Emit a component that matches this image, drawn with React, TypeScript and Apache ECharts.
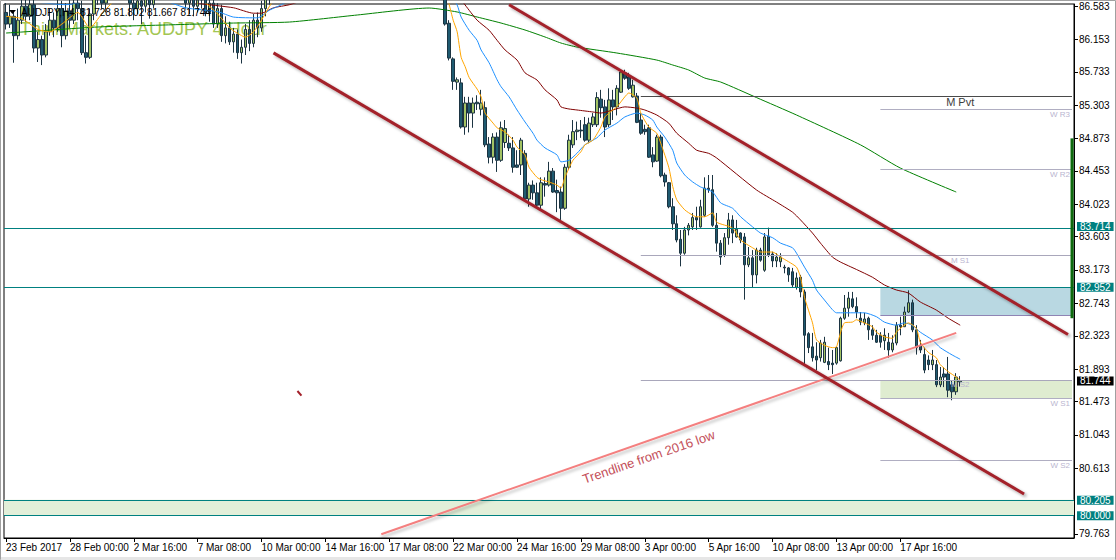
import React, { useEffect, useRef } from "react";
import * as echarts from "echarts";

const N_BARS = 268;
const categories = Array.from({ length: N_BARS }, (_, i) => String(i));
const xTickLabels = [
  "23 Feb 2017", "28 Feb 00:00", "2 Mar 16:00", "7 Mar 08:00", "10 Mar 00:00",
  "14 Mar 16:00", "17 Mar 08:00", "22 Mar 00:00", "24 Mar 16:00", "29 Mar 08:00",
  "3 Apr 00:00", "5 Apr 16:00", "10 Apr 08:00", "13 Apr 00:00", "17 Apr 16:00",
];
const yTickValues = [86.583, 86.153, 85.733, 85.303, 84.873, 84.453, 84.023, 83.603, 83.173,
  82.743, 82.323, 81.893, 81.473, 81.043, 80.613, 79.763];

// [open, close, low, high]
const candles: number[][] = [
  [86.50, 86.35, 86.28, 86.62], [86.35, 86.45, 86.30, 86.60], [86.45, 86.20, 85.85, 86.52], [86.20, 86.40, 86.15, 86.55],
  [86.40, 86.58, 86.35, 86.70], [86.58, 86.45, 86.38, 86.72], [86.45, 86.60, 86.40, 86.75], [86.60, 86.04, 85.98, 86.68],
  [86.04, 86.15, 85.86, 86.25], [86.15, 85.95, 85.82, 86.20], [85.95, 86.25, 85.92, 86.35], [86.25, 86.40, 86.20, 86.55],
  [86.40, 86.30, 86.18, 86.50], [86.30, 86.55, 86.25, 86.68], [86.55, 86.20, 86.05, 86.65], [86.20, 86.52, 86.15, 86.62],
  [86.52, 86.40, 86.30, 86.70], [86.40, 86.62, 86.35, 86.78], [86.62, 86.55, 86.40, 86.80], [86.55, 85.98, 85.95, 86.65],
  [85.98, 85.92, 85.84, 86.20], [85.92, 86.48, 85.90, 86.55], [86.48, 86.70, 86.40, 86.85], [86.70, 86.78, 86.60, 86.90],
  [86.78, 86.62, 86.55, 86.88], [86.62, 86.75, 86.50, 86.85], [86.75, 86.85, 86.68, 86.95], [86.85, 86.72, 86.65, 86.92],
  [86.72, 86.80, 86.62, 86.90], [86.80, 86.90, 86.70, 86.98], [86.90, 86.75, 86.68, 86.95], [86.75, 86.62, 86.45, 86.85],
  [86.62, 86.55, 86.40, 86.75], [86.55, 86.65, 86.48, 86.78], [86.65, 86.58, 86.35, 86.75], [86.58, 86.70, 86.50, 86.80],
  [86.70, 86.60, 86.42, 86.78], [86.60, 86.72, 86.55, 86.82], [86.72, 86.85, 86.65, 86.95], [86.85, 86.78, 86.70, 86.95],
  [86.78, 86.90, 86.72, 87.00], [86.90, 86.95, 86.80, 87.05], [86.95, 86.82, 86.75, 87.02], [86.82, 86.88, 86.70, 86.98],
  [86.88, 86.75, 86.68, 86.95], [86.75, 86.62, 86.55, 86.82], [86.62, 86.70, 86.48, 86.78], [86.70, 86.58, 86.45, 86.76],
  [86.58, 86.66, 86.50, 86.72], [86.66, 86.72, 86.55, 86.80], [86.72, 86.50, 86.45, 86.78], [86.50, 86.62, 86.38, 86.70],
  [86.62, 86.35, 86.30, 86.68], [86.35, 86.55, 86.30, 86.62], [86.55, 86.20, 86.12, 86.60], [86.20, 86.30, 86.10, 86.45],
  [86.30, 86.12, 86.08, 86.38], [86.12, 86.22, 85.98, 86.30], [86.22, 85.98, 85.90, 86.28], [85.98, 86.05, 85.84, 86.15],
  [86.05, 86.28, 85.95, 86.35], [86.28, 86.10, 86.00, 86.40], [86.10, 86.40, 86.05, 86.48], [86.40, 86.30, 86.18, 86.50],
  [86.30, 86.55, 86.25, 86.65], [86.55, 86.70, 86.45, 86.80], [86.70, 86.80, 86.60, 86.92],
  [86.80, 86.72, 86.62, 86.90], [86.72, 86.90, 86.66, 87.00], [86.90, 87.05, 86.84, 87.12], [87.05, 86.95, 86.88, 87.15],
  [86.95, 87.10, 86.90, 87.18], [87.10, 87.25, 87.05, 87.32], [87.25, 87.18, 87.10, 87.30], [87.18, 87.30, 87.12, 87.38],
  [87.30, 87.22, 87.15, 87.36], [87.22, 87.35, 87.18, 87.42], [87.35, 87.40, 87.28, 87.48], [87.40, 87.28, 87.22, 87.45],
  [87.28, 87.33, 87.20, 87.40], [87.33, 87.45, 87.28, 87.52], [87.45, 87.38, 87.30, 87.50], [87.38, 87.50, 87.34, 87.58],
  [87.50, 87.42, 87.36, 87.55], [87.42, 87.36, 87.28, 87.48], [87.36, 87.48, 87.30, 87.55], [87.48, 87.55, 87.42, 87.62],
  [87.55, 87.47, 87.40, 87.60], [87.47, 87.40, 87.32, 87.52], [87.40, 87.52, 87.36, 87.58], [87.52, 87.44, 87.38, 87.56],
  [87.44, 87.30, 87.24, 87.48], [87.30, 87.36, 87.22, 87.42], [87.36, 87.25, 87.18, 87.40], [87.25, 87.32, 87.20, 87.38],
  [87.32, 87.20, 87.12, 87.36], [87.20, 87.28, 87.14, 87.34], [87.28, 87.15, 87.08, 87.32], [87.15, 87.22, 87.10, 87.28],
  [87.22, 87.10, 87.02, 87.26], [87.10, 87.18, 87.04, 87.24], [87.18, 87.05, 86.98, 87.22], [87.05, 87.12, 86.98, 87.18],
  [87.12, 87.00, 86.92, 87.16], [87.00, 87.08, 86.92, 87.14], [87.08, 86.95, 86.88, 87.12], [86.95, 87.02, 86.88, 87.08],
  [87.02, 86.92, 86.84, 87.06], [86.92, 86.98, 86.82, 87.04], [86.98, 86.80, 86.72, 87.02],
  [86.70, 86.35, 86.33, 86.75], [86.36, 85.91, 85.88, 86.40], [85.90, 85.61, 85.50, 85.92], [85.60, 85.63, 85.50, 85.66],
  [85.59, 85.02, 85.00, 85.65], [85.02, 85.33, 84.92, 85.41], [85.33, 85.20, 84.95, 85.41], [85.20, 85.33, 85.01, 85.40],
  [85.34, 85.32, 85.24, 85.43], [85.25, 85.33, 85.17, 85.50], [85.27, 84.79, 84.76, 85.35], [84.80, 84.63, 84.55, 84.89],
  [84.63, 84.89, 84.55, 84.94], [84.89, 84.59, 84.44, 84.95], [84.59, 85.01, 84.57, 85.09], [84.82, 85.00, 84.75, 85.11],
  [84.81, 84.75, 84.71, 84.92], [84.75, 84.50, 84.43, 84.89], [84.53, 84.50, 84.49, 84.72], [84.53, 84.85, 84.40, 84.88],
  [84.68, 84.09, 84.08, 84.72], [84.09, 84.27, 83.99, 84.30], [84.27, 84.17, 84.08, 84.33], [84.17, 84.01, 83.99, 84.30],
  [84.01, 84.30, 83.95, 84.37], [84.29, 84.27, 84.12, 84.37], [84.27, 84.45, 84.25, 84.57], [84.45, 84.18, 84.17, 84.49],
  [84.20, 84.17, 83.92, 84.34], [84.18, 83.97, 83.82, 84.25], [83.97, 84.50, 83.95, 84.54], [84.50, 84.85, 84.47, 84.92],
  [84.79, 84.96, 84.75, 85.11], [84.96, 84.98, 84.85, 85.09], [84.98, 84.97, 84.88, 85.11], [85.05, 84.85, 84.83, 85.15],
  [84.85, 85.07, 84.81, 85.14], [85.05, 85.15, 85.02, 85.20], [85.05, 85.40, 85.02, 85.47], [85.38, 85.27, 85.14, 85.50],
  [85.28, 85.02, 84.89, 85.37], [85.05, 85.37, 85.02, 85.52], [85.37, 85.28, 85.11, 85.50], [85.28, 85.52, 85.17, 85.56],
  [85.47, 85.73, 85.46, 85.76], [85.72, 85.65, 85.63, 85.76], [85.67, 85.52, 85.50, 85.72], [85.41, 85.56, 85.40, 85.63],
  [85.42, 85.08, 85.07, 85.46], [85.11, 84.94, 84.92, 85.20], [84.99, 84.96, 84.92, 85.05], [85.01, 84.63, 84.62, 85.05],
  [84.66, 84.57, 84.50, 84.76], [84.58, 84.89, 84.57, 84.92], [84.89, 84.39, 84.37, 84.92], [84.40, 84.31, 84.25, 84.43],
  [84.30, 83.99, 83.97, 84.31], [83.99, 83.77, 83.69, 84.10], [83.77, 83.56, 83.53, 83.88], [83.57, 83.39, 83.22, 83.69],
  [83.39, 83.69, 83.37, 83.73], [83.69, 83.75, 83.62, 83.78], [83.73, 83.85, 83.69, 83.91], [83.85, 83.82, 83.69, 83.99],
  [83.73, 83.99, 83.72, 84.08], [83.88, 84.23, 83.86, 84.37], [84.23, 84.21, 84.17, 84.40], [84.21, 83.75, 83.73, 84.40],
  [83.75, 83.52, 83.41, 83.91], [83.52, 83.34, 83.24, 83.56], [83.37, 83.59, 83.34, 83.65], [83.59, 83.82, 83.50, 83.91],
  [83.82, 83.65, 83.52, 83.88], [83.60, 83.70, 83.59, 83.82], [83.65, 83.56, 83.52, 83.66], [83.60, 83.24, 82.79, 83.65],
  [83.24, 83.33, 83.21, 83.47], [83.33, 83.11, 82.94, 83.43], [83.11, 83.43, 83.00, 83.46], [83.43, 83.30, 83.28, 83.46],
  [83.17, 83.60, 83.15, 83.65], [83.61, 83.37, 83.34, 83.72], [83.38, 83.29, 83.21, 83.41], [83.29, 83.34, 83.21, 83.39],
  [83.28, 83.34, 83.21, 83.39], [83.21, 83.20, 83.13, 83.24], [83.20, 83.11, 83.02, 83.21], [83.15, 82.98, 82.95, 83.20],
  [82.95, 83.07, 82.92, 83.14], [83.08, 82.89, 82.82, 83.11], [82.89, 82.33, 81.95, 82.92], [82.35, 82.17, 82.10, 82.37],
  [82.18, 82.04, 81.99, 82.36], [82.06, 82.01, 81.88, 82.24], [82.04, 82.23, 81.99, 82.27], [81.98, 82.24, 81.97, 82.31],
  [81.99, 81.95, 81.88, 82.17], [81.97, 81.95, 81.83, 82.14], [81.97, 82.17, 81.95, 82.18], [82.00, 82.55, 81.99, 82.57],
  [82.55, 82.68, 82.53, 82.85], [82.68, 82.81, 82.57, 82.89], [82.80, 82.70, 82.68, 82.89], [82.70, 82.63, 82.55, 82.82],
  [82.55, 82.50, 82.46, 82.63], [82.49, 82.54, 82.46, 82.62], [82.55, 82.40, 82.27, 82.57], [82.40, 82.33, 82.27, 82.46],
  [82.33, 82.24, 82.23, 82.40], [82.33, 82.24, 82.17, 82.37], [82.26, 82.33, 82.14, 82.42], [82.24, 82.14, 82.04, 82.36],
  [82.14, 82.23, 82.11, 82.33], [82.23, 82.46, 82.20, 82.50], [82.46, 82.44, 82.33, 82.57], [82.44, 82.63, 82.44, 82.70],
  [82.63, 82.75, 82.62, 82.91], [82.75, 82.40, 82.37, 82.79], [82.40, 82.17, 82.08, 82.46], [82.20, 82.14, 82.10, 82.27],
  [82.08, 81.88, 81.84, 82.17], [82.01, 81.95, 81.88, 82.07], [81.95, 82.01, 81.88, 82.14], [81.95, 81.69, 81.66, 82.01],
  [81.69, 81.79, 81.66, 81.92], [81.83, 81.79, 81.66, 81.92], [81.83, 81.62, 81.53, 82.05], [81.69, 81.60, 81.49, 81.75],
  [81.60, 81.79, 81.56, 81.84], [81.728, 81.744, 81.667, 81.802],
];

// moving averages read at sparse bars: [bar index, price]
const maOrange: number[][] = [
  [0, 86.45], [4, 86.42], [8, 86.28], [11, 86.25], [14, 86.35], [18, 86.50], [21, 86.30], [24, 86.48], [29, 86.72],
  [35, 86.65], [40, 86.80], [45, 86.72], [50, 86.62], [53, 86.48], [56, 86.30], [58, 86.23], [60, 86.18], [62, 86.25],
  [64, 86.40], [66, 86.58], [69, 86.80], [75, 87.10], [85, 87.35], [100, 87.20], [107, 86.98], [110, 86.75],
  [111, 86.60], [112, 86.40], [113, 86.25], [114, 85.92], [115, 85.80], [116, 85.66], [118, 85.51], [119, 85.41],
  [120, 85.20], [122, 85.07], [123, 85.01], [125, 84.955], [127, 84.85], [128, 84.76], [130, 84.66], [131, 84.50],
  [133, 84.37], [134, 84.34], [136, 84.31], [138, 84.27], [139, 84.23], [140, 84.37], [142, 84.59], [144, 84.70],
  [145, 84.79], [147, 84.85], [149, 85.02], [150, 85.15], [152, 85.24], [153, 85.28], [155, 85.41], [156, 85.46],
  [158, 85.395], [159, 85.20], [161, 85.02], [163, 84.94], [164, 84.81], [166, 84.50], [167, 84.25], [168, 84.08],
  [170, 83.95], [172, 83.88], [173, 83.86], [175, 83.86], [177, 83.91], [178, 83.79], [182, 83.715], [184, 83.56],
  [187, 83.46], [189, 83.405], [192, 83.405], [194, 83.34], [196, 83.28], [198, 83.21], [199, 83.08], [200, 82.82],
  [202, 82.49], [203, 82.27], [205, 82.20], [207, 82.17], [208, 82.18], [209, 82.36], [210, 82.49], [212, 82.50],
  [213, 82.53], [215, 82.49], [217, 82.44], [218, 82.37], [220, 82.31], [222, 82.29], [223, 82.37], [225, 82.46],
  [226, 82.49], [228, 82.42], [229, 82.24], [231, 82.11], [233, 82.04], [234, 81.95], [236, 81.86], [238, 81.79], [239, 81.75],
];
const maBlue: number[][] = [
  [0, 86.68], [10, 86.62], [15, 86.60], [25, 86.70], [35, 86.72], [45, 86.56], [53, 86.51], [57, 86.44], [63, 86.43],
  [66, 86.53], [69, 86.60], [80, 86.95], [95, 87.15], [105, 87.05], [111, 86.75], [113, 86.596], [114, 86.44],
  [116, 86.27], [118, 86.14], [119, 86.015], [121, 85.85], [123, 85.63], [124, 85.54], [126, 85.41], [128, 85.24],
  [130, 85.085], [132, 84.94], [133, 84.85], [135, 84.75], [138, 84.66], [139, 84.57], [141, 84.59], [143, 84.68],
  [145, 84.79], [148, 84.88], [150, 84.98], [153, 85.07], [155, 85.15], [158, 85.20], [160, 85.175], [162, 85.11],
  [163, 85.02], [165, 84.89], [167, 84.72], [168, 84.555], [170, 84.40], [172, 84.31], [174, 84.245], [177, 84.18],
  [179, 84.04], [182, 83.97], [184, 83.86], [187, 83.73], [189, 83.65], [192, 83.59], [194, 83.52], [197, 83.46],
  [198, 83.39], [200, 83.21], [202, 83.04], [203, 82.915], [205, 82.785], [207, 82.66], [208, 82.62], [210, 82.62],
  [213, 82.62], [215, 82.62], [218, 82.57], [220, 82.50], [223, 82.46], [225, 82.49], [227, 82.46], [229, 82.37],
  [232, 82.27], [234, 82.17], [237, 82.075], [239, 82.02],
];
const maDarkRed: number[][] = [
  [0, 86.85], [20, 86.78], [40, 86.72], [48, 86.62], [57, 86.56], [62, 86.49], [64, 86.49], [67, 86.56], [71, 86.60],
  [80, 86.75], [95, 86.95], [108, 86.98], [112, 86.80], [115, 86.596], [118, 86.40], [121, 86.27], [123, 86.14],
  [125, 86.015], [128, 85.885], [130, 85.72], [133, 85.627], [135, 85.50], [138, 85.37], [139, 85.28], [141, 85.253],
  [143, 85.24], [147, 85.214], [149, 85.20], [152, 85.24], [155, 85.28], [158, 85.265], [160, 85.24], [163, 85.175],
  [166, 85.07], [168, 84.94], [171, 84.81], [173, 84.72], [176, 84.68], [178, 84.62], [188, 84.206], [193, 84.05],
  [197, 83.92], [199, 83.82], [202, 83.65], [204, 83.52], [207, 83.34], [209, 83.276], [213, 83.18], [217, 83.08],
  [220, 82.98], [223, 82.915], [226, 82.876], [229, 82.76], [233, 82.656], [236, 82.55], [239, 82.46],
];
const maGreen: number[][] = [
  [0, 86.234], [4, 86.247], [23, 86.312], [40, 86.338], [57, 86.363], [71, 86.376], [88, 86.467], [106, 86.557],
  [113, 86.506], [118, 86.441], [124, 86.363], [130, 86.273], [135, 86.183], [139, 86.105], [143, 86.053],
  [153, 85.976], [163, 85.885], [167, 85.821], [171, 85.756], [175, 85.653], [179, 85.601], [188, 85.40],
  [198, 85.175], [214, 84.79], [224, 84.49], [238, 84.18],
];

// drawn objects: [bar index, price] end points
const channelUpper = [[126, 86.60], [266, 82.34]];
const channelLower = [[67, 85.978], [255, 80.28]];
const resistanceRed = [[153, 82.96], [267, 82.96]];
const trendline2016 = [[94, 79.76], [238, 82.36]];
const arrowMark = [[73, 81.61], [74, 81.55]];
const rangeBar = [[267, 84.873], [267, 82.55]];

const levelFull = [
  { value: 83.714, label: "83.714", bg: "#008080" },
  { value: 82.952, label: "82.952", bg: "#008080" },
  { value: 80.205, label: "80.205", bg: "#008080" },
  { value: 80.0, label: "80.000", bg: "#008080" },
];
const lastPrice = 81.744;
const monthlyPivots = [
  { name: "M Pvt", value: 85.42 },
  { name: "M S1", value: 83.36 },
  { name: "M S2", value: 81.752 },
];
const weeklyPivots = [
  { name: "W R3", value: 85.253 },
  { name: "W R2", value: 84.479 },
  { name: "W Pvt", value: 82.59 },
  { name: "W S1", value: 81.52 },
  { name: "W S2", value: 80.72 },
];
const monthlyLabels = [
  { text: "M Pvt", bar: 239, price: 85.343 },
  { text: "M S1", bar: 239, price: 83.302 },
  { text: "M S2", bar: 239, price: 81.70 },
];
const weeklyBoxes = [
  { from: 82.952, to: 82.59, color: "#b9d8e2" },
  { from: 81.752, to: 81.52, color: "#dfecd0" },
];
const supportBand = [80.205, 80.0];
const trendlineLabel = { text: "Trendline from 2016 low", bar: 161, price: 80.758 };

const FONT = "'Liberation Sans', Arial, sans-serif";

function sparse(points: number[][]) {
  const arr: (number | null)[] = new Array(N_BARS).fill(null);
  points.forEach(([i, v]) => (arr[i] = v));
  return arr;
}

function objLine(data: number[][], color: string, width: number, extra: any = {}) {
  return {
    type: "line",
    data,
    symbol: "none",
    silent: true,
    z: 5,
    lineStyle: { color, width, ...extra },
  };
}

export default function App() {
  const ref = useRef<HTMLDivElement>(null);
  useEffect(() => {
    document.body.style.margin = "0";
    if (!ref.current) return;
    const chart = echarts.init(ref.current, null, { renderer: "svg" });
    const tickInterval = (index: number) => index % 16 === 0 && index <= 224;
    const redShadow = { shadowColor: "rgba(0,0,0,0.35)", shadowBlur: 3, shadowOffsetX: 2, shadowOffsetY: 2 };
    const priceLabel = (text: string, bg: string, dy = 0) => ({
      show: true, position: "end", formatter: text, backgroundColor: bg, color: "#fff",
      padding: [0, 3, 0, 3], lineHeight: 9, distance: 3, fontSize: 10, fontFamily: FONT, offset: [0, dy],
    });
    const option: any = {
      animation: false,
      backgroundColor: "#ffffff",
      textStyle: { fontFamily: FONT },
      grid: { left: 4, right: 42, top: 4, bottom: 22, show: true, borderColor: "#000", borderWidth: 1 },
      xAxis: {
        type: "category",
        data: categories,
        boundaryGap: true,
        axisLine: { show: true, lineStyle: { color: "#000", width: 1 } },
        axisTick: { show: true, alignWithLabel: true, interval: tickInterval, length: 4, lineStyle: { color: "#000" } },
        axisLabel: {
          interval: tickInterval,
          formatter: (_v: string, idx: number) => xTickLabels[idx / 16] ?? "",
          align: "left",
          margin: 4,
          color: "#000",
          fontSize: 10,
          fontFamily: FONT,
        },
        splitLine: { show: false },
      },
      yAxis: {
        type: "value",
        position: "right",
        min: 79.711,
        max: 86.609,
        scale: true,
        axisLine: { show: true, lineStyle: { color: "#000", width: 1 } },
        axisTick: { show: true, length: 4, customValues: yTickValues, lineStyle: { color: "#000" } },
        axisLabel: {
          customValues: yTickValues,
          formatter: (v: number) => v.toFixed(3),
          margin: 5,
          color: "#000",
          fontSize: 10,
          lineHeight: 9,
          fontFamily: FONT,
        },
        splitLine: { show: false },
      },
      graphic: [
        { type: "rect", shape: { x: 0.5, y: 0.5, width: 1115, height: 559 }, style: { stroke: "#a0a0a0", fill: "none" }, z: 0 },
        { type: "rect", shape: { x: 1, y: 557, width: 1114, height: 3 }, style: { fill: "#e6e6e6" }, z: 0 },
        {
          type: "text", x: 20, y: 28.5, z: 0,
          style: { text: "ThinkMarkets: AUDJPY 4 Hour", fill: "#a3c653", font: `18px ${FONT}`, verticalAlign: "middle" },
        },
        { type: "polygon", shape: { points: [[9, 10], [16, 10], [12.5, 14]] }, style: { fill: "#000" }, z: 100 },
        {
          type: "text", x: 21, y: 12.5, z: 100,
          style: { text: "AUDJPY,H4  81.728 81.802 81.667 81.744", fill: "#000", font: `10px ${FONT}`, verticalAlign: "middle" },
        },
      ],
      series: [
        {
          name: "areas",
          type: "line",
          data: [],
          z: 1,
          silent: true,
          markArea: {
            silent: true,
            data: [
              ...weeklyBoxes.map((b) => [
                { coord: [219, b.from], itemStyle: { color: b.color } },
                { coord: [267, b.to] },
              ]),
              [{ yAxis: supportBand[0], itemStyle: { color: "#e2efd9" } }, { yAxis: supportBand[1] }],
            ],
          },
        },
        {
          name: "AUDJPY",
          type: "candlestick",
          data: candles,
          barWidth: 3,
          z: 2,
          itemStyle: {
            color: "#a2c263",
            color0: "#1f5a70",
            borderColor: "#1c3442",
            borderColor0: "#1c3442",
            borderWidth: 1,
          },
        },
        ...[
          { d: maGreen, c: "#008000" },
          { d: maDarkRed, c: "#800000" },
          { d: maBlue, c: "#1e90ff" },
          { d: maOrange, c: "#ffa500" },
        ].map((m) => ({
          type: "line",
          data: sparse(m.d),
          connectNulls: true,
          smooth: 0.2,
          symbol: "none",
          silent: true,
          z: 4,
          lineStyle: { color: m.c, width: 1 },
        })),
        {
          name: "levels",
          type: "line",
          data: [],
          z: 3,
          silent: true,
          markLine: {
            silent: true,
            symbol: ["none", "none"],
            label: { show: false },
            data: [
              ...levelFull.map((l) => ({
                yAxis: l.value,
                lineStyle: { color: "#008080", width: 1, type: "solid" },
                label: priceLabel(l.label, l.bg, l.label === "83.714" ? -2 : 0),
              })),
              {
                yAxis: lastPrice,
                lineStyle: { color: "rgba(0,0,0,0)", width: 0 },
                label: priceLabel(lastPrice.toFixed(3), "#000"),
              },
              ...monthlyPivots.map((p) => [
                {
                  coord: [159, p.value],
                  lineStyle: { color: p.name === "M Pvt" ? "#4a4a4a" : "#a9a7bb", width: 1, type: "solid" },
                },
                { coord: [267, p.value] },
              ]),
              ...weeklyPivots.map((p) => [
                {
                  coord: [219, p.value],
                  lineStyle: { color: p.name === "W Pvt" ? "#8f84b4" : "#b0aec2", width: 1, type: "solid" },
                  label: p.name === "W Pvt" ? { show: false } : {
                    show: true, position: "insideEndBottom", formatter: p.name, color: "#b9b5cf",
                    fontSize: 8, fontFamily: FONT, distance: 2,
                  },
                },
                { coord: [267, p.value] },
              ]),
            ],
          },
          markPoint: {
            silent: true,
            symbol: "rect",
            symbolSize: 1,
            itemStyle: { color: "rgba(0,0,0,0)" },
            data: [
              ...monthlyLabels.map((m) => ({
                coord: [m.bar, m.price],
                label: {
                  show: true, position: "inside", formatter: m.text,
                  color: m.text === "M Pvt" ? "#3d3d3d" : "#b9b5cf",
                  fontSize: m.text === "M Pvt" ? 11 : 8, fontFamily: FONT,
                },
              })),
              {
                coord: [trendlineLabel.bar, trendlineLabel.price],
                label: {
                  show: true, position: "inside", formatter: trendlineLabel.text, rotate: 19,
                  color: "#c4505a", fontSize: 13, fontFamily: FONT,
                },
              },
            ],
          },
        },
        objLine(trendline2016, "#f47f7f", 2, { shadowColor: "rgba(0,0,0,0.25)", shadowBlur: 3, shadowOffsetY: 3 }),
        objLine(resistanceRed, "#a3202a", 3, redShadow),
        objLine(channelUpper, "#a3202a", 3, redShadow),
        objLine(channelLower, "#a3202a", 3, redShadow),
        objLine(arrowMark, "#a3202a", 2),
        { ...objLine(rangeBar, "#0d6b0d", 3), clip: false, z: 6 },
      ],
    };
    chart.setOption(option);
    return () => chart.dispose();
  }, []);
  return <div ref={ref} style={{ width: 1116, height: 560 }} />;
}
